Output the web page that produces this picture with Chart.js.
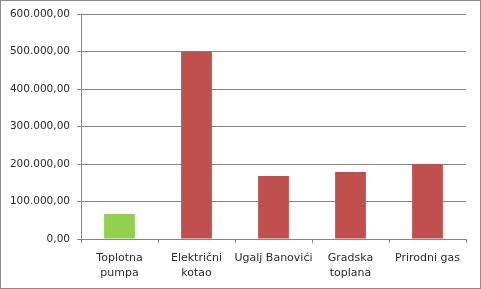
<!DOCTYPE html>
<html>
<head>
<meta charset="utf-8">
<script src="https://cdn.jsdelivr.net/npm/chart.js@4"></script>
<style>
  html, body { margin:0; padding:0; background:#fff; }
  #wrap { position:relative; width:481px; height:289px; }
  #wrap canvas { position:absolute; left:0; top:0; }
  #frame { position:absolute; left:0; top:0; width:481px; height:289px; box-sizing:border-box; border:1px solid #8c8c8c; pointer-events:none; }
</style>
</head>
<body>
<div id="wrap">
  <canvas id="c" width="481" height="289"></canvas>
  <div id="frame"></div>
</div>
<script>
/* Heating cost comparison */

const categories = [
  ['Toplotna', 'pumpa'],
  ['Električni', 'kotao'],
  'Ugalj Banovići',
  ['Gradska', 'toplana'],
  'Prirodni gas'
];
const values = [67000, 500000, 168000, 179000, 200000];
const barColors = ['#92D050', '#C0504D', '#C0504D', '#C0504D', '#C0504D'];
const yTickValues = [0, 100000, 200000, 300000, 400000, 500000, 600000];

function fmt(v){
  const s = Math.round(v).toString().replace(/\B(?=(\d{3})+(?!\d))/g, '.');
  return s + ',00';
}

const gridColor = '#868686';
const textColor = '#2b2b2b';

new Chart(document.getElementById('c').getContext('2d'), {
  type: 'bar',
  data: {
    labels: categories,
    datasets: [{
      data: values,
      backgroundColor: barColors,
      borderWidth: 0,
      barPercentage: 0.4,
      categoryPercentage: 1
    }]
  },
  options: {
    responsive: false,
    animation: false,
    layout: { padding: { top: 14, right: 15, bottom: 0, left: 0 } },
    scales: {
      x: {
        grid: { display: true, drawOnChartArea: false, color: gridColor, tickLength: 4, offset: true },
        border: { color: gridColor },
        ticks: {
          color: textColor, padding: 8, maxRotation: 0, autoSkip: false,
          font: { family: 'DejaVu Sans', size: 11, lineHeight: 1.35 }
        },
        afterFit: (s) => { s.height = 50; }
      },
      y: {
        min: 0, max: 600000,
        afterBuildTicks: (s) => { s.ticks = yTickValues.map(v => ({ value: v })); },
        grid: { color: gridColor, tickLength: 4 },
        border: { color: gridColor },
        ticks: {
          color: textColor, padding: 7, callback: (v) => fmt(v),
          font: { family: 'DejaVu Sans', size: 10.5 }
        },
        afterFit: (s) => { s.width = 81; }
      }
    },
    plugins: { legend: { display: false }, tooltip: { enabled: false } }
  }
});
</script>
</body>
</html>
